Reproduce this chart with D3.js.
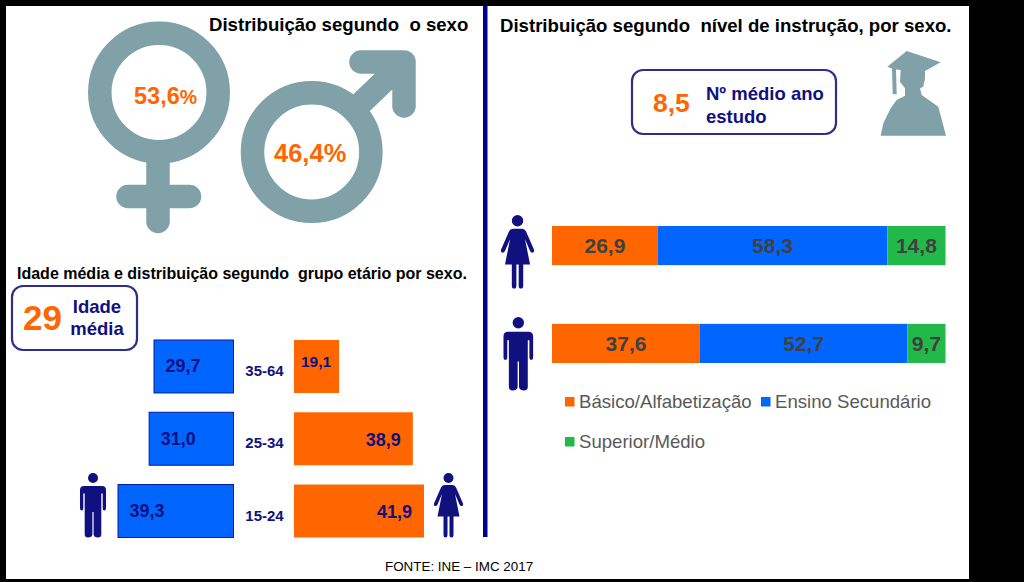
<!DOCTYPE html>
<html><head><meta charset="utf-8">
<script src="https://cdnjs.cloudflare.com/ajax/libs/d3/7.8.5/d3.min.js"></script>
<style>
html,body{margin:0;padding:0;background:#000;overflow:hidden}
text{font-family:"Liberation Sans",Arial,sans-serif;white-space:pre}
</style></head><body><div id="c"></div>
<script>
const sexShares = [53.6, 46.4];
const ageGroups = ["35-64", "25-34", "15-24"];
const ageMale = [29.7, 31.0, 39.3];
const ageFemale = [19.1, 38.9, 41.9];
const meanAge = "29";
const meanYears = "8,5";
const eduSeries = ["Básico/Alfabetização", "Ensino Secundário", "Superior/Médio"];
const eduRows = ["Mulher", "Homem"];
const eduBasic = [26.9, 37.6];
const eduSecondary = [58.3, 52.7];
const eduHigher = [14.8, 9.7];

const ORANGE="#ff6600",BLUE="#0066ff",GREEN="#22b84a",NAVY="#10107f",TEAL="#7fa1a7",GREY="#404040";
const fmt=v=>d3.format(".1f")(v).replace(".",",");
const svg=d3.select("#c").append("svg").attr("width",1024).attr("height",582).style("display","block");
svg.append("rect").attr("width",1024).attr("height",582).attr("fill","#000");
svg.append("rect").attr("x",6).attr("y",6).attr("width",963).attr("height",573).attr("fill","#fff");
svg.append("rect").attr("x",483).attr("y",6).attr("width",4.5).attr("height",531).attr("fill","#000090");

function label(x,y,t,size,fill,weight="bold",anchor="start"){
  return svg.append("text").attr("x",x).attr("y",y).attr("font-size",size).attr("fill",fill)
    .attr("font-weight",weight).attr("text-anchor",anchor).text(t);
}
label(209,31,"Distribuição segundo  o sexo",18.6,"#000");
label(500,32,"Distribuição segundo  nível de instrução, por sexo.",18.6,"#000");
label(17,279,"Idade média e distribuição segundo  grupo etário por sexo.",16,"#000");
label(385,571,"FONTE: INE – IMC 2017",13.4,"#000","normal");

/* sex symbols */
const sym=svg.append("g").attr("fill","none").attr("stroke",TEAL).attr("stroke-width",23.5)
  .attr("stroke-linecap","round").attr("stroke-linejoin","round");
sym.append("circle").attr("cx",159).attr("cy",92.5).attr("r",59.2);
sym.append("path").attr("d","M158,152V221.5M128,196.5H189.5");
sym.append("circle").attr("cx",311.7).attr("cy",152).attr("r",59.2);
sym.append("path").attr("d","M361,62H404V106M404,62L356,108").attr("stroke-linecap","round");
function pct(x,y,v,s1,s2){
  const t=label(x,y,"",s1,ORANGE);
  t.append("tspan").text(fmt(v));
  t.append("tspan").attr("font-size",s2).text("%");
}
pct(134,104,sexShares[0],23.5,19.5);
pct(274,162,sexShares[1],25.5,25.5);

/* people */
const MAN="M4,13H22Q26,13 26,17V35Q26,37.5 24.3,37.5Q22.7,37.5 22.7,35V20.5H21.3V61.5Q21.3,64.5 18,64.5Q14,64.5 13.6,61.5V39H12.4V61.5Q12,64.5 8,64.5Q4.7,64.5 4.7,61.5V20.5H3.3V35Q3.3,37.5 1.7,37.5Q0,37.5 0,35V17Q0,13 4,13Z";
const WOMAN="M10.5,12H18.5Q21,12 22,14.5L29,30.5Q29.5,32.5 28,33Q26.5,33.5 25.5,31.5L21,21L25.5,43.5H19.5V62Q19.5,64.5 17.5,64.5Q15.5,64.5 15.5,62V43.5H13.5V62Q13.5,64.5 11.5,64.5Q9.5,64.5 9.5,62V43.5H3.5L8,21L3.5,31.5Q2.5,33.5 1,33Q-.5,32.5 0,30.5L7,14.5Q8,12 10.5,12Z";
function person(kind,x,y,k){
  const g=svg.append("g").attr("transform",`translate(${x},${y}) scale(${k})`).attr("fill",NAVY);
  g.append("path").attr("d",kind==="m"?MAN:WOMAN);
  g.append("circle").attr("cx",kind==="m"?13:14.5).attr("cy",5).attr("r",5);
}
person("m",80,473,1);
person("w",434,473,1);
person("w",501,215,1.14);
person("m",503.5,317,1.14);

/* boxes */
function box(x,y,w,h){
  svg.append("rect").attr("x",x).attr("y",y).attr("width",w).attr("height",h).attr("rx",11)
    .attr("fill","#fff").attr("stroke","#2e2e8c").attr("stroke-width",2.2);
}
box(12,286,125,64);
label(23,330,meanAge,35,ORANGE);
label(97,313,"Idade",18.5,NAVY,"bold","middle");
label(97,335,"média",18.5,NAVY,"bold","middle");
box(632,70,204,64);
label(653,112,meanYears,26.5,ORANGE);
label(706,100,"Nº médio ano",18.5,NAVY);
label(706,123,"estudo",18.5,NAVY);

/* graduate */
svg.append("path").attr("fill",TEAL).attr("d",
 "M887.3,66.7L906.7,51L940.7,62.3L925,71L925,78.3L923.3,86.7L920,88.3L921.7,95L938.3,106.7L946,135.7H880.7L883.3,123.3L890.7,108.3L896.7,100L905,95.7L905,88.3L900,81.7L900.7,70L896,69.5L896.7,94.3H892.7L892,68.5Z");

/* age pyramid */
const yAge=d3.scaleBand().domain(ageGroups).range([340,537.5]).paddingInner(0.267).paddingOuter(0);
const xMale=d3.scaleLinear().domain([8.5,39.3]).range([233.5,118]);
const xFemale=d3.scaleLinear().domain([7,41.9]).range([294,424]);
const ageData=ageGroups.map((g,i)=>({g,m:ageMale[i],f:ageFemale[i]}));
svg.append("g").selectAll("rect").data(ageData).join("rect")
  .attr("x",d=>xMale(d.m)).attr("y",d=>yAge(d.g)).attr("width",d=>233.5-xMale(d.m)).attr("height",yAge.bandwidth())
  .attr("fill",BLUE).attr("stroke","#0a1a9a").attr("stroke-width",1);
svg.append("g").selectAll("rect").data(ageData).join("rect")
  .attr("x",294).attr("y",d=>yAge(d.g)).attr("width",d=>xFemale(d.f)-294).attr("height",yAge.bandwidth())
  .attr("fill",ORANGE);
const band=yAge.bandwidth();
svg.append("g").selectAll("text").data(ageData).join("text")
  .attr("x",d=>xMale(d.m)+11.5).attr("y",d=>yAge(d.g)+band/2+6)
  .attr("font-size",18).attr("font-weight","bold").attr("fill",NAVY).text(d=>fmt(d.m));
svg.append("g").selectAll("text").data(ageData).join("text")
  .attr("x",d=>d.f<25?xFemale(d.f)-8:xFemale(d.f)-12)
  .attr("y",d=>yAge(d.g)+band/2+(d.f<25?1:7))
  .attr("text-anchor","end")
  .attr("font-size",d=>d.f<25?15.5:18).attr("font-weight","bold").attr("fill",NAVY).text(d=>fmt(d.f));
svg.append("g").selectAll("text").data(ageData).join("text")
  .attr("x",264.5).attr("y",d=>yAge(d.g)+band/2+9.5).attr("text-anchor","middle")
  .attr("font-size",15).attr("font-weight","bold").attr("fill",NAVY).text(d=>d.g);

/* education stacked bars */
const eduData=eduRows.map((r,i)=>({row:r,[eduSeries[0]]:eduBasic[i],[eduSeries[1]]:eduSecondary[i],[eduSeries[2]]:eduHigher[i]}));
const stacked=d3.stack().keys(eduSeries)(eduData);
const xEdu=d3.scaleLinear().domain([0,100]).range([552,945.5]);
const yEdu=d3.scaleBand().domain(eduRows).range([226,363]).paddingInner(0.6).paddingOuter(0);
const colEdu=d3.scaleOrdinal().domain(eduSeries).range([ORANGE,BLUE,GREEN]);
const layers=svg.append("g").selectAll("g").data(stacked).join("g").attr("fill",d=>colEdu(d.key));
layers.selectAll("rect").data(d=>d.map(p=>({p,row:p.data.row}))).join("rect")
  .attr("x",d=>xEdu(d.p[0])).attr("width",d=>xEdu(d.p[1])-xEdu(d.p[0]))
  .attr("y",d=>yEdu(d.row)).attr("height",yEdu.bandwidth());
layers.selectAll("text").data(d=>d.map(p=>({p,row:p.data.row}))).join("text")
  .attr("x",d=>(xEdu(d.p[0])+xEdu(d.p[1]))/2).attr("y",d=>yEdu(d.row)+yEdu.bandwidth()/2+7.5)
  .attr("text-anchor","middle").attr("font-size",21).attr("font-weight","bold").attr("fill",GREY)
  .text(d=>fmt(d.p[1]-d.p[0]));

/* legend */
const legendPos=[[565,408],[761,408],[565,448]];
eduSeries.forEach((s,i)=>{
  const [x,y]=legendPos[i];
  svg.append("rect").attr("x",x).attr("y",y-11).attr("width",9.5).attr("height",9.5).attr("fill",colEdu(s));
  label(x+14,y,s,18.6,"#595959","normal");
});
</script></body></html>
